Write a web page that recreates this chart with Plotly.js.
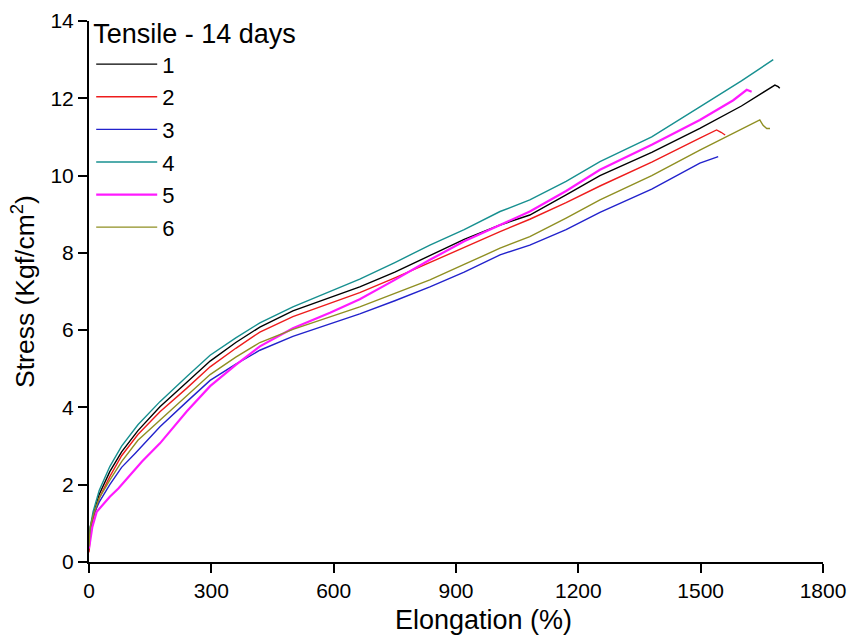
<!DOCTYPE html>
<html>
<head>
<meta charset="utf-8">
<script src="https://cdn.plot.ly/plotly-3.0.1.min.js"></script>
<style>html,body{margin:0;padding:0;background:#fff;}#chart{width:850px;height:639px;}</style>
</head>
<body>
<div id="chart"></div>
<script>
// Elongation (%) and Stress (Kgf/cm2) readings for each specimen
const x1 = [0, 3, 10, 25, 51, 80, 120, 174, 240, 297, 360, 419, 500, 591, 664, 750, 836, 920, 1008, 1081, 1170, 1253, 1380, 1498, 1600, 1660, 1682, 1690, 1694];
const y1 = [0.3, 0.8, 1.2, 1.75, 2.34, 2.85, 3.4, 4.02, 4.65, 5.2, 5.68, 6.08, 6.5, 6.85, 7.12, 7.5, 7.92, 8.35, 8.72, 8.98, 9.5, 10.0, 10.6, 11.22, 11.8, 12.2, 12.34, 12.3, 12.26];

const x2 = [0, 3, 10, 25, 51, 80, 120, 174, 240, 297, 360, 419, 500, 591, 664, 750, 836, 920, 1008, 1081, 1170, 1253, 1380, 1498, 1539, 1550, 1560];
const y2 = [0.25, 0.7, 1.1, 1.65, 2.21, 2.75, 3.3, 3.89, 4.5, 5.05, 5.53, 5.95, 6.35, 6.69, 6.97, 7.35, 7.75, 8.15, 8.55, 8.87, 9.3, 9.73, 10.35, 10.97, 11.18, 11.12, 11.05];

const x3 = [0, 3, 10, 25, 51, 80, 113, 174, 240, 297, 360, 419, 500, 591, 664, 750, 836, 920, 1008, 1081, 1170, 1253, 1380, 1498, 1543];
const y3 = [0.5, 0.9, 1.2, 1.55, 2.0, 2.45, 2.81, 3.5, 4.15, 4.7, 5.12, 5.48, 5.84, 6.16, 6.42, 6.76, 7.12, 7.5, 7.95, 8.2, 8.6, 9.05, 9.65, 10.32, 10.49];

const x4 = [0, 3, 10, 25, 51, 80, 120, 174, 240, 297, 360, 419, 500, 591, 664, 750, 836, 920, 1008, 1081, 1170, 1253, 1380, 1498, 1600, 1678];
const y4 = [0.4, 0.9, 1.3, 1.85, 2.47, 3.0, 3.55, 4.15, 4.8, 5.35, 5.8, 6.19, 6.6, 7.0, 7.32, 7.75, 8.2, 8.6, 9.07, 9.37, 9.85, 10.36, 11.0, 11.78, 12.45, 13.0];

const x5 = [0, 3, 8, 19, 35, 51, 72, 100, 130, 174, 240, 297, 360, 419, 500, 591, 664, 750, 836, 920, 1008, 1081, 1170, 1253, 1380, 1498, 1580, 1613, 1625];
const y5 = [0.35, 0.6, 0.9, 1.3, 1.5, 1.69, 1.9, 2.25, 2.6, 3.07, 3.9, 4.55, 5.1, 5.58, 6.05, 6.45, 6.8, 7.3, 7.82, 8.3, 8.72, 9.07, 9.6, 10.15, 10.8, 11.44, 11.95, 12.22, 12.17];

const x6 = [0, 3, 10, 25, 51, 80, 120, 174, 240, 297, 360, 419, 500, 591, 664, 750, 836, 920, 1008, 1081, 1170, 1253, 1380, 1498, 1600, 1645, 1653, 1662, 1670];
const y6 = [0.4, 0.9, 1.2, 1.65, 2.12, 2.6, 3.15, 3.67, 4.3, 4.85, 5.3, 5.68, 6.02, 6.35, 6.6, 6.95, 7.3, 7.7, 8.12, 8.42, 8.9, 9.37, 10.0, 10.66, 11.2, 11.44, 11.3, 11.22, 11.22];

const seriesNames = ['1', '2', '3', '4', '5', '6'];
const seriesX = [x1, x2, x3, x4, x5, x6];
const seriesY = [y1, y2, y3, y4, y5, y6];
const colors = ['#000000', '#ee1c1c', '#2222cc', '#179090', '#ff1aff', '#8f8f22'];
const widths = [1.4, 1.4, 1.4, 1.4, 2.2, 1.4];

const xTicks = [0, 300, 600, 900, 1200, 1500, 1800];
const yTicks = [0, 2, 4, 6, 8, 10, 12, 14];

const xTitle = 'Elongation (%)';
const yTitle = 'Stress (Kgf/cm<sup>2</sup>)';
const legendTitle = 'Tensile - 14 days';

const font = 'Liberation Sans, Arial, sans-serif';

const traces = seriesNames.map((n, i) => ({
  type: 'scatter', mode: 'lines', name: n,
  x: seriesX[i], y: seriesY[i],
  legendgroup: 'g' + n,
  line: {color: colors[i], width: widths[i]}
}));

const layout = {
  width: 850, height: 639,
  margin: {l: 89, r: 27, t: 21, b: 77, autoexpand: false},
  paper_bgcolor: '#fff', plot_bgcolor: '#fff',
  font: {family: font, color: '#000'},
  showlegend: true,
  legend: {
    x: 0.003, y: 1.0236, xanchor: 'left', yanchor: 'top',
    bgcolor: 'rgba(0,0,0,0)',
    font: {family: font, size: 22, color: '#000'},
    title: {text: legendTitle, font: {family: font, size: 27, color: '#000'}},
    itemwidth: 61,
    tracegroupgap: 1
  },
  xaxis: {
    range: [0, 1800], tickvals: xTicks, ticktext: xTicks.map(String),
    showgrid: false, zeroline: false, automargin: false,
    showline: true, linecolor: '#000', linewidth: 2,
    ticks: 'outside', ticklen: 9, tickwidth: 2, tickcolor: '#000',
    tickfont: {family: font, size: 21, color: '#000'}
  },
  yaxis: {
    range: [0, 14], tickvals: yTicks, ticktext: yTicks.map(String),
    showgrid: false, zeroline: false, automargin: false,
    showline: true, linecolor: '#000', linewidth: 2,
    ticks: 'outside', ticklen: 9, tickwidth: 2, tickcolor: '#000',
    tickfont: {family: font, size: 21, color: '#000'},
    title: {text: yTitle, font: {family: font, size: 26.5, color: '#000'}, standoff: 8}
  },
  annotations: [{
    text: xTitle, xref: 'paper', yref: 'paper',
    x: (483 - 89) / 734, y: -(620 - 562) / 541,
    xanchor: 'center', yanchor: 'middle', showarrow: false,
    font: {family: font, size: 27, color: '#000'}
  }]
};

Plotly.newPlot('chart', traces, layout, {displayModeBar: false, staticPlot: true});
</script>
</body>
</html>
